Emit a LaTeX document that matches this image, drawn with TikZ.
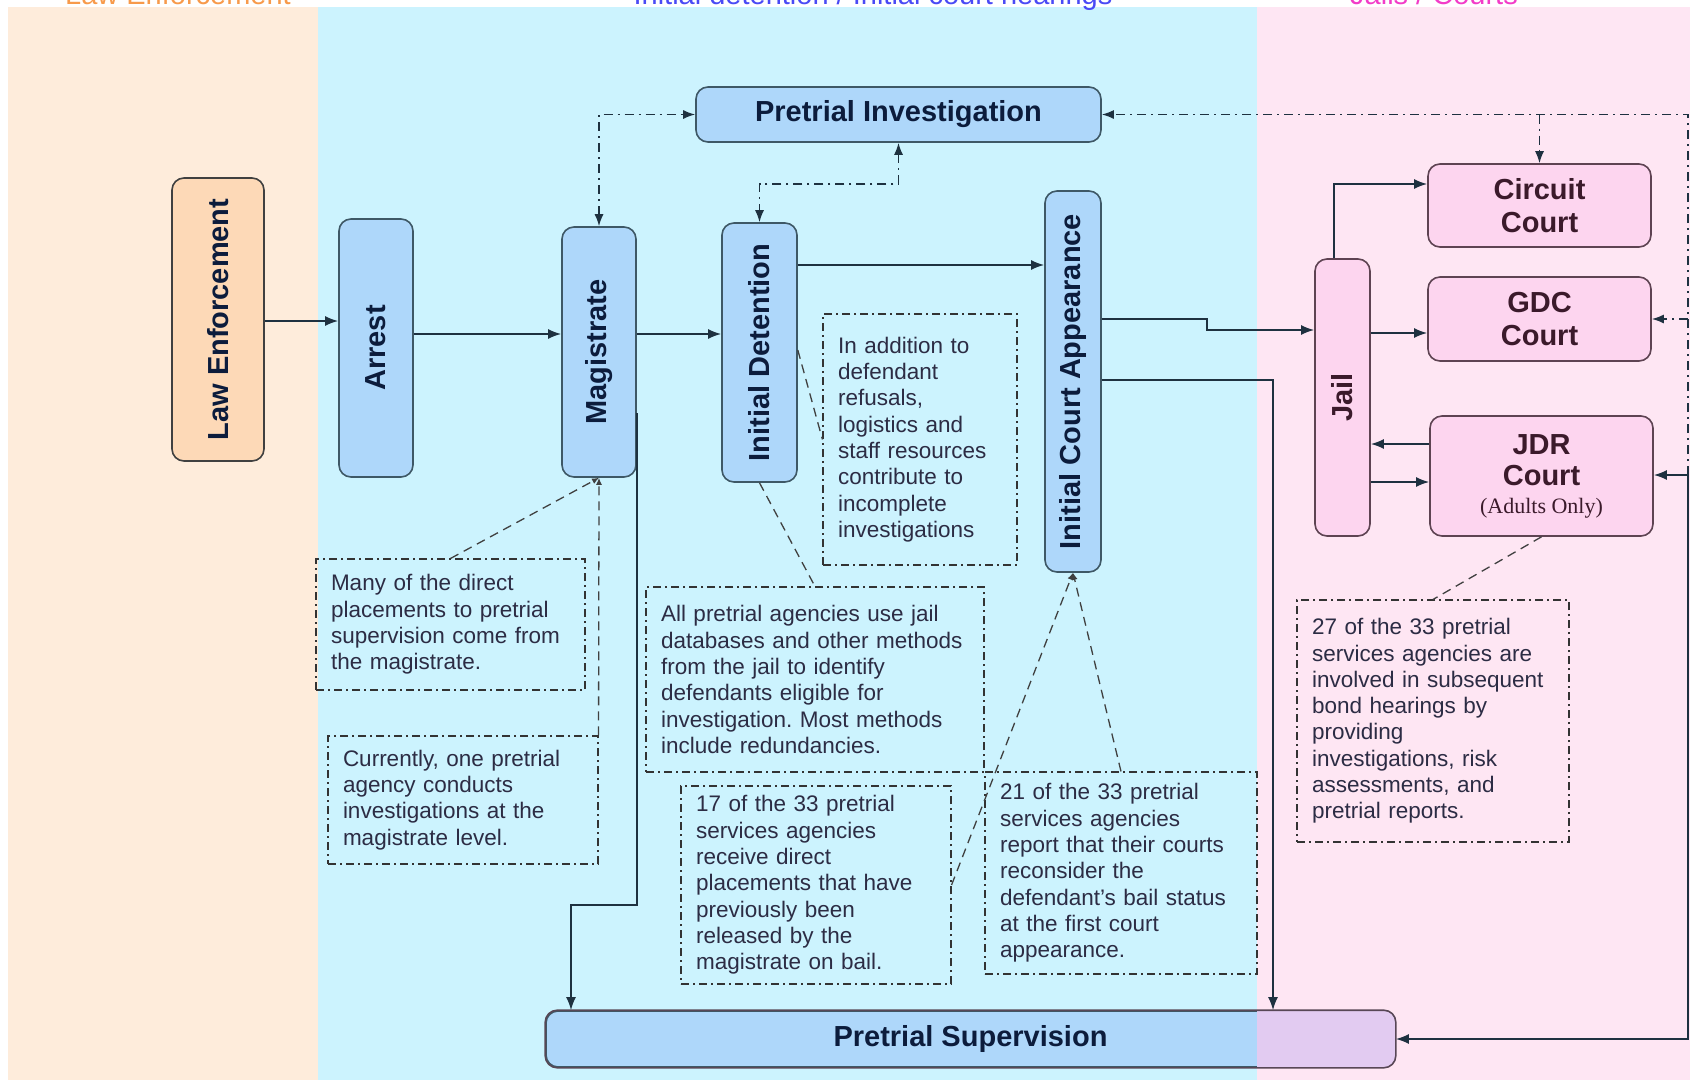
\documentclass[tikz,border=0pt]{standalone}
\usepackage{fontspec}
\usepackage{graphicx}
\setmainfont{Liberation Sans}
\newfontfamily\romanfont{Liberation Serif}
\usetikzlibrary{arrows.meta}
\frenchspacing

\definecolor{lawbg}{HTML}{FEECDB}
\definecolor{courtbg}{HTML}{CCF3FE}
\definecolor{jailbg}{HTML}{FEE6F3}
\definecolor{lawfill}{HTML}{FDD9B7}
\definecolor{stagefill}{HTML}{AED7FA}
\definecolor{jailfill}{HTML}{FDD5EF}
\definecolor{mixfill}{HTML}{E2CBF1}
\definecolor{stageline}{HTML}{3E5866}
\definecolor{jailline}{HTML}{5E4352}
\definecolor{labelink}{HTML}{0C1C3C}
\definecolor{jailink}{HTML}{3B1A2B}
\definecolor{noteink}{HTML}{2C2C44}
\definecolor{wire}{HTML}{1E3140}
\definecolor{lawtitle}{HTML}{F79A4B}
\definecolor{courttitle}{HTML}{4A4AF5}
\definecolor{jailtitle}{HTML}{F23CC8}

\tikzset{
  box/.style={draw=stageline, line width=1.6pt, rounded corners=12pt,
    fill=stagefill, text=labelink, inner sep=0pt, align=center,
    font=\fontsize{29}{33}\selectfont\bfseries},
  lawbox/.style={box, fill=lawfill, draw=black!75},
  jailbox/.style={box, fill=jailfill, draw=jailline, text=jailink},
  note/.style={draw=black!80, line width=1.1pt,
    dash pattern=on 8pt off 4pt on 2pt off 4pt,
    align=left, inner xsep=15pt, inner ysep=0pt, text=noteink,
    font=\fontsize{22.5}{26.3}\selectfont},
  flow/.style={draw=wire, line width=1.8pt, -{Latex[length=13pt,width=10pt]}},
  probe/.style={draw=wire, line width=1.5pt,
    dash pattern=on 9pt off 5pt on 2pt off 5pt, -{Latex[length=12pt,width=9pt]}},
  both/.style={{Latex[length=12pt,width=9pt]}-{Latex[length=12pt,width=9pt]}},
  pointer/.style={draw=black!75, line width=1.3pt, dash pattern=on 9pt off 6pt},
  title/.style={anchor=base, font=\fontsize{29}{33}\selectfont}
}

\begin{document}
\begin{tikzpicture}[x=1pt,y=-1pt]
  \useasboundingbox (0,0) rectangle (1690,1080);
  % swim lanes
  \fill[lawbg]   (8,7)    rectangle (318,1080);
  \fill[courtbg] (318,7)  rectangle (1257,1080);
  \fill[jailbg]  (1257,7) rectangle (1690,1080);
  \node[title, text=lawtitle]   (tlaw)   at (178,4)  {Law Enforcement};
  \node[title, text=courttitle] (tcourt) at (873,4)  {Initial detention / Initial court hearings};
  \node[title, text=jailtitle]  (tjail)  at (1434,4) {Jails / Courts};

  % stages
  \node[lawbox, minimum width=92pt, minimum height=283pt] (law) at (218,319.5)
    {\rotatebox{90}{Law Enforcement}};
  \node[box, minimum width=74pt, minimum height=258pt] (arrest) at (376,348)
    {\rotatebox{90}{Arrest}};
  \node[box, minimum width=74pt, minimum height=250pt] (mag) at (599,352)
    {\rotatebox{90}{Magistrate}};
  \node[box, minimum width=75pt, minimum height=259pt] (idet) at (759.5,352.5)
    {\rotatebox{90}{Initial Detention}};
  \node[box, minimum width=56pt, minimum height=381pt] (ica) at (1073,381.5)
    {\rotatebox{90}{Initial Court Appearance}};
  \node[box, minimum width=405pt, minimum height=55pt] (pinv) at (898.5,114.5)
    {Pretrial Investigation};
  \node[jailbox, minimum width=55pt, minimum height=277pt] (jail) at (1342.5,397.5)
    {\rotatebox{90}{Jail}};
  \node[jailbox, minimum width=223pt, minimum height=83pt] (circ) at (1539.5,205.5)
    {Circuit\\Court};
  \node[jailbox, minimum width=223pt, minimum height=84pt] (gdc) at (1539.5,319)
    {GDC\\Court};
  \node[jailbox, minimum width=223pt, minimum height=120pt] (jdr) at (1541.5,476)
    {JDR\\[-2pt]Court\\[-5pt]{\romanfont\mdseries\fontsize{22}{26}\selectfont (Adults Only)}};
  \node[box, minimum width=849pt, minimum height=56pt] (psup) at (970.5,1039)
    {Pretrial Supervision};
  \begin{scope}                          % jail lane shows through
    \clip[rounded corners=12pt] (psup.south west) rectangle (psup.north east);
    \fill[mixfill] (1257,1000) rectangle (1400,1075);
  \end{scope}
  \draw[draw=jailline!80!stageline, line width=1.6pt, rounded corners=12pt]
    (psup.south west) rectangle (psup.north east);

  % notes
  \node[note, text width=239pt, minimum height=131pt] (calA) at (450.5,624.5)
    {Many of the direct\\placements to pretrial\\supervision come from\\the magistrate.};
  \node[note, text width=240pt, minimum height=128pt] (calB) at (463,800)
    {Currently, one pretrial\\agency conducts\\investigations at the\\magistrate level.};
  \node[note, text width=164pt, minimum height=251pt] (calC) at (920,439.5)
    {In addition to\\defendant\\refusals,\\logistics and\\staff resources\\contribute to\\incomplete\\investigations};
  \node[note, text width=308pt, minimum height=185pt] (calD) at (815,679.5)
    {All pretrial agencies use jail\\databases and other methods\\from the jail to identify\\defendants eligible for\\investigation. Most methods\\include redundancies.};
  \node[note, text width=240pt, minimum height=198pt] (calE) at (816,885)
    {17 of the 33 pretrial\\services agencies\\receive direct\\placements that have\\previously been\\released by the\\magistrate on bail.};
  \node[note, text width=242pt, minimum height=202pt] (calF) at (1121,873)
    {21 of the 33 pretrial\\services agencies\\report that their courts\\reconsider the\\defendant's bail status\\at the first court\\appearance.};
  \node[note, text width=242pt, minimum height=242pt] (calG) at (1433,721)
    {27 of the 33 pretrial\\services agencies are\\involved in subsequent\\bond hearings by\\providing\\investigations, risk\\assessments, and\\pretrial reports.};

  % main flow
  \draw[flow] (law.east |- 0,321) -- (arrest.west |- 0,321);
  \draw[flow] (arrest.east |- 0,334) -- (mag.west |- 0,334);
  \draw[flow] (mag.east |- 0,334) -- (idet.west |- 0,334);
  \draw[flow] (idet.east |- 0,265) -- (ica.west |- 0,265);
  \draw[flow] (ica.east |- 0,319) -- (1207,319) -- (1207,330) -- (jail.west |- 0,330);
  \draw[flow] (ica.east |- 0,380) -| (psup.north -| 1273,0);
  \draw[flow] (mag.east |- 0,413) -- (mag.east |- 0,905) -| (psup.north -| 571,0);
  \draw[flow] (jail.north -| 1334,0) |- (circ.west |- 0,184);
  \draw[flow] (jail.east |- 0,333) -- (gdc.west |- 0,333);
  \draw[flow] (jdr.west |- 0,444) -- (jail.east |- 0,444);
  \draw[flow] (jail.east |- 0,482) -- (jdr.west |- 0,482);
  \coordinate (rin) at (1688,475);       % comes in from the right
  \draw[flow] (rin) -- (jdr.east |- rin);
  \draw[flow] (rin) |- (psup.east);

  % investigation requests
  \draw[probe] (rin) |- (pinv.east);
  \draw[probe] (circ.north |- pinv.east) -- (circ.north);
  \draw[probe] (rin |- gdc.east) -- (gdc.east);
  \draw[probe, both] (mag.north) |- (pinv.west);
  \draw[probe, both] (pinv.south) -- ++(0,41) -| (idet.north);

  % note pointers
  \draw[pointer, -{Latex[length=7pt,width=6pt]}] (calA.north) -- (mag.south);
  \draw[pointer, -{Latex[length=7pt,width=6pt]}] (calB.north east) -- (mag.south);
  \draw[pointer] (idet.south) -- (calD.north);
  \draw[pointer] (idet.east |- 0,350) -- (calC.west);
  \draw[pointer, -{Latex[length=7pt,width=6pt]}] (calE.east) -- (ica.south);
  \draw[pointer, -{Latex[length=7pt,width=6pt]}] (calF.north) -- (ica.south);
  \draw[pointer] (jdr.south) -- (calG.north);
\end{tikzpicture}
\end{document}
